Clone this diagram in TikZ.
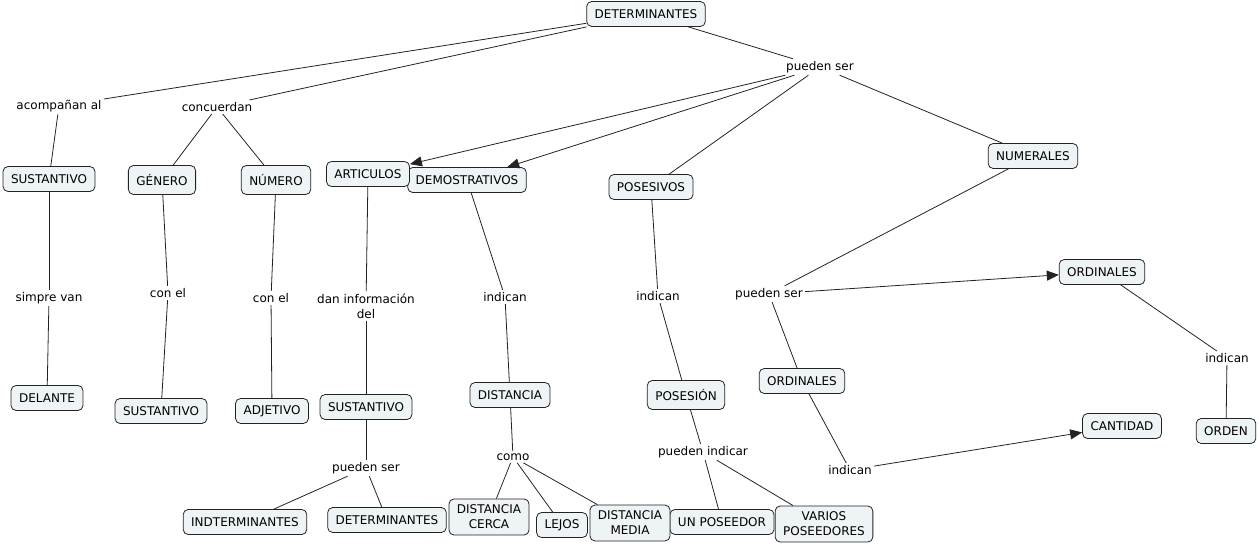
\documentclass[tikz,border=0pt]{standalone}
\usepackage{fontspec}
\setmainfont{DejaVu Sans}
\usetikzlibrary{arrows.meta}
\definecolor{boxfill}{RGB}{238,243,246}
\definecolor{linegray}{RGB}{35,35,35}

\begin{document}
\begin{tikzpicture}[x=1pt, y=-1pt, line width=0.8pt,
  concept/.style={shape=rectangle, rounded corners=5pt, draw=linegray, fill=boxfill, inner xsep=8pt, inner ysep=6pt, minimum height=25pt, align=center, font=\fontsize{12}{15}\selectfont},
  link/.style={inner sep=2pt, align=center, font=\fontsize{12}{15}\selectfont},
  tip/.style={-{Triangle[length=12pt,width=10pt]}}]
\useasboundingbox (0,0) rectangle (1259,546);
\node[concept] (det) at (646,14) {DETERMINANTES};
\node[concept] (sust1) at (49,179) {SUSTANTIVO};
\node[concept, minimum height=29pt] (gen) at (162,180) {GÉNERO};
\node[concept, minimum height=29pt] (num) at (276,180) {NÚMERO};
\node[concept] (dem) at (467,180) {DEMOSTRATIVOS};
\node[concept] (art) at (368,174) {ARTICULOS};
\node[concept] (pos) at (651,187) {POSESIVOS};
\node[concept] (nums) at (1033,156) {NUMERALES};
\node[concept] (ord1) at (1102,272) {ORDINALES};
\node[concept] (del) at (47,398) {DELANTE};
\node[concept] (sust2) at (161,411) {SUSTANTIVO};
\node[concept] (adj) at (272,411) {ADJETIVO};
\node[concept] (sust3) at (366,407) {SUSTANTIVO};
\node[concept] (dist) at (510,395) {DISTANCIA};
\node[concept, minimum height=29pt] (posn) at (686,395) {POSESIÓN};
\node[concept] (ord2) at (802,381) {ORDINALES};
\node[concept] (cant) at (1122,426) {CANTIDAD};
\node[concept] (orden) at (1226,431) {ORDEN};
\node[concept] (indet) at (245,522) {INDTERMINANTES};
\node[concept] (det2) at (387,520) {DETERMINANTES};
\node[concept] (cerca) at (489,517) {DISTANCIA\\CERCA};
\node[concept] (lejos) at (562,525) {LEJOS};
\node[concept] (uno) at (722,522) {UN POSEEDOR};
\node[concept] (media) at (630,523) {DISTANCIA\\MEDIA};
\node[concept] (varios) at (824,524) {VARIOS\\POSEEDORES};
\node[link] (acomp) at (59,106) {acompañan al};
\node[link] (conc) at (217,107) {concuerdan};
\node[link] (pueden) at (820,67) {pueden ser};
\node[link] (simpre) at (49,298) {simpre van};
\node[link] (conel1) at (168,293) {con el};
\node[link] (conel2) at (271,298) {con el};
\node[link] (dan) at (366,306) {dan información\\del};
\node[link] (ind1) at (505,297) {indican};
\node[link] (ind2) at (658,296) {indican};
\node[link] (pueden2) at (769,294) {pueden ser};
\node[link] (ind3) at (1227,358) {indican};
\node[link] (pueden3) at (366,468) {pueden ser};
\node[link] (como) at (513,457) {como};
\node[link] (pind) at (703,452) {pueden indicar};
\node[link] (ind4) at (850,470) {indican};
\draw[-, linegray] (det) -- (acomp);
\draw[-, linegray] (acomp) -- (sust1);
\draw[-, linegray] (det) -- (conc);
\draw[-, linegray] (conc) -- (gen);
\draw[-, linegray] (conc) -- (num);
\draw[-, linegray] (det) -- (pueden);
\draw[tip, linegray] (pueden) -- (art);
\draw[tip, linegray] (pueden) -- (dem);
\draw[-, linegray] (pueden) -- (pos);
\draw[-, linegray] (pueden) -- (nums);
\draw[-, linegray] (sust1) -- (simpre);
\draw[-, linegray] (simpre) -- (del);
\draw[-, linegray] (gen) -- (conel1);
\draw[-, linegray] (conel1) -- (sust2);
\draw[-, linegray] (num) -- (conel2);
\draw[-, linegray] (conel2) -- (adj);
\draw[-, linegray] (art) -- (dan);
\draw[-, linegray] (dan) -- (sust3);
\draw[-, linegray] (sust3) -- (pueden3);
\draw[-, linegray] (pueden3) -- (indet);
\draw[-, linegray] (pueden3) -- (det2);
\draw[-, linegray] (dem) -- (ind1);
\draw[-, linegray] (ind1) -- (dist);
\draw[-, linegray] (dist) -- (como);
\draw[-, linegray] (como) -- (cerca);
\draw[-, linegray] (como) -- (lejos);
\draw[-, linegray] (como) -- (media);
\draw[-, linegray] (pos) -- (ind2);
\draw[-, linegray] (ind2) -- (posn);
\draw[-, linegray] (posn) -- (pind);
\draw[-, linegray] (pind) -- (uno);
\draw[-, linegray] (pind) -- (varios);
\draw[-, linegray] (nums) -- (pueden2);
\draw[tip, linegray] (pueden2) -- (ord1);
\draw[-, linegray] (pueden2) -- (ord2);
\draw[-, linegray] (ord1) -- (ind3);
\draw[-, linegray] (ind3) -- (orden);
\draw[-, linegray] (ord2) -- (ind4);
\draw[tip, linegray] (ind4) -- (cant);
\end{tikzpicture}
\end{document}
